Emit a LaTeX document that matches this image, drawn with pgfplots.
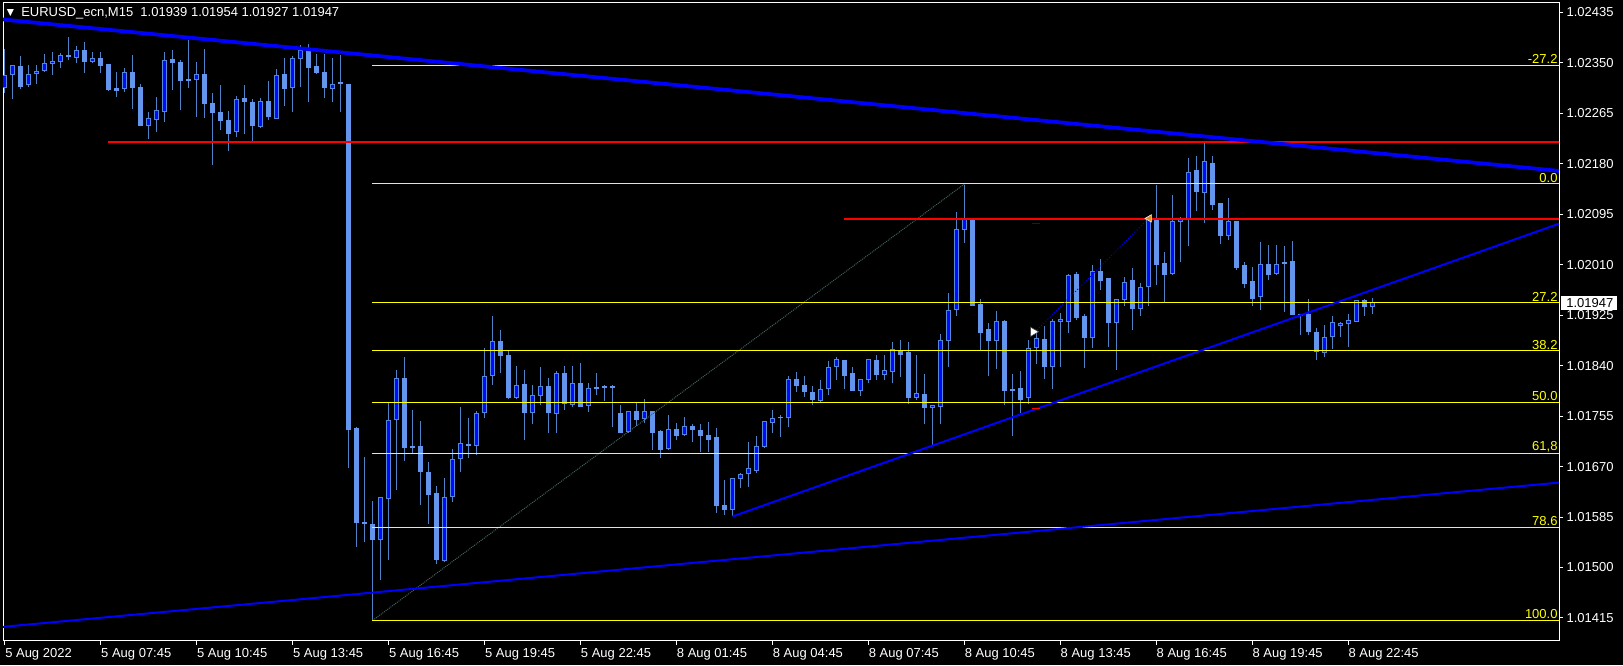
\documentclass[border=0pt]{standalone}
\usepackage{fontspec}
\setmainfont{Liberation Sans}
\newfontfamily\dejavu{DejaVu Sans}
\usepackage{pgfplots}
\pgfplotsset{compat=1.18}
\usepackage{pgfplotstable}

\definecolor{wick}{RGB}{80,130,200}
\definecolor{bearbody}{RGB}{100,149,237}
\definecolor{bulledge}{RGB}{85,135,215}
\definecolor{bullbody}{RGB}{0,10,255}
\definecolor{fibdiag}{RGB}{65,100,95}
\definecolor{tlblue}{RGB}{0,0,255}
\definecolor{fibyel}{RGB}{255,255,0}
\definecolor{arrorange}{RGB}{230,140,40}

% EURUSD M15, bar index 0 = 5 Aug 04:45
\pgfplotstableread{
i o h l c
0 1.02307 1.02373 1.02300 1.02328
1 1.02329 1.02347 1.02289 1.02345
3 1.02312 1.02347 1.02309 1.02331
4 1.02331 1.02346 1.02314 1.02336
5 1.02337 1.02365 1.02335 1.02348
6 1.02348 1.02368 1.02330 1.02352
7 1.02351 1.02366 1.02341 1.02363
9 1.02359 1.02379 1.02349 1.02371
11 1.02351 1.02369 1.02349 1.02358
15 1.02306 1.02341 1.02301 1.02333
18 1.02243 1.02267 1.02221 1.02256
19 1.02253 1.02292 1.02233 1.02269
20 1.02268 1.02368 1.02251 1.02353
24 1.02321 1.02352 1.02258 1.02331
29 1.02233 1.02294 1.02225 1.02288
32 1.02242 1.02290 1.02241 1.02284
34 1.02256 1.02340 1.02256 1.02328
36 1.02307 1.02361 1.02268 1.02357
37 1.02356 1.02380 1.02309 1.02370
41 1.02306 1.02358 1.02284 1.02314
47 1.01546 1.01617 1.01479 1.01617
48 1.01615 1.01777 1.01513 1.01748
49 1.01748 1.01832 1.01631 1.01818
55 1.01511 1.01651 1.01509 1.01617
56 1.01619 1.01700 1.01611 1.01682
57 1.01682 1.01770 1.01661 1.01708
59 1.01705 1.01763 1.01690 1.01760
60 1.01760 1.01870 1.01751 1.01822
61 1.01822 1.01924 1.01807 1.01880
64 1.01786 1.01839 1.01783 1.01807
66 1.01761 1.01808 1.01741 1.01789
67 1.01789 1.01837 1.01774 1.01805
69 1.01758 1.01831 1.01727 1.01826
71 1.01773 1.01840 1.01770 1.01809
73 1.01772 1.01810 1.01762 1.01802
78 1.01729 1.01763 1.01727 1.01763
80 1.01750 1.01784 1.01743 1.01762
83 1.01700 1.01757 1.01698 1.01733
85 1.01723 1.01753 1.01721 1.01738
91 1.01596 1.01649 1.01586 1.01649
92 1.01649 1.01659 1.01634 1.01657
93 1.01657 1.01711 1.01636 1.01667
94 1.01663 1.01721 1.01659 1.01703
95 1.01703 1.01746 1.01701 1.01745
96 1.01744 1.01766 1.01727 1.01750
98 1.01751 1.01822 1.01736 1.01816
102 1.01781 1.01816 1.01778 1.01799
103 1.01800 1.01848 1.01790 1.01837
104 1.01837 1.01855 1.01816 1.01851
107 1.01798 1.01818 1.01789 1.01816
108 1.01815 1.01852 1.01811 1.01851
110 1.01825 1.01858 1.01815 1.01831
111 1.01830 1.01879 1.01810 1.01867
114 1.01786 1.01858 1.01782 1.01793
116 1.01768 1.01774 1.01705 1.01773
117 1.01771 1.01893 1.01742 1.01882
118 1.01882 1.01962 1.01838 1.01933
119 1.01933 1.02099 1.01924 1.02069
120 1.02069 1.02145 1.02047 1.02086
124 1.01882 1.01932 1.01835 1.01914
128 1.01785 1.01884 1.01776 1.01869
129 1.01869 1.01897 1.01843 1.01886
131 1.01837 1.01918 1.01800 1.01914
132 1.01914 1.01928 1.01838 1.01917
133 1.01914 1.01995 1.01895 1.01992
136 1.01886 1.02010 1.01869 1.01999
139 1.01912 1.01953 1.01833 1.01952
140 1.01950 1.01989 1.01941 1.01980
142 1.01936 1.01979 1.01924 1.01971
143 1.01972 1.02088 1.01941 1.02087
146 1.01994 1.02128 1.01993 1.02082
147 1.02082 1.02091 1.02015 1.02087
148 1.02087 1.02190 1.02042 1.02166
150 1.02131 1.02216 1.02080 1.02183
153 1.02058 1.02122 1.02052 1.02082
157 1.01955 1.02048 1.01934 1.02011
159 1.01995 1.02043 1.01993 1.02011
165 1.01861 1.01909 1.01854 1.01888
166 1.01888 1.01923 1.01868 1.01912
167 1.01906 1.01914 1.01888 1.01911
168 1.01910 1.01927 1.01872 1.01916
169 1.01914 1.01951 1.01913 1.01950
171 1.01939 1.01954 1.01927 1.01947
}\bull

\pgfplotstableread{
i o h l c
2 1.02343 1.02362 1.02306 1.02310
8 1.02362 1.02394 1.02355 1.02360
10 1.02370 1.02385 1.02333 1.02352
12 1.02357 1.02369 1.02333 1.02345
13 1.02347 1.02348 1.02302 1.02304
14 1.02306 1.02334 1.02292 1.02303
16 1.02333 1.02363 1.02272 1.02308
17 1.02308 1.02315 1.02243 1.02244
21 1.02355 1.02371 1.02304 1.02349
22 1.02350 1.02355 1.02271 1.02320
23 1.02322 1.02389 1.02307 1.02320
25 1.02331 1.02373 1.02257 1.02280
26 1.02281 1.02300 1.02178 1.02266
27 1.02267 1.02313 1.02237 1.02252
28 1.02252 1.02269 1.02201 1.02231
30 1.02289 1.02313 1.02231 1.02284
31 1.02283 1.02289 1.02219 1.02243
33 1.02284 1.02320 1.02254 1.02258
35 1.02330 1.02358 1.02277 1.02306
38 1.02369 1.02382 1.02284 1.02342
39 1.02343 1.02365 1.02331 1.02333
40 1.02334 1.02365 1.02290 1.02307
42 1.02316 1.02363 1.02267 1.02314
43 1.02314 1.02315 1.01668 1.01731
44 1.01734 1.01736 1.01535 1.01575
45 1.01576 1.01686 1.01543 1.01573
46 1.01572 1.01612 1.01411 1.01546
50 1.01818 1.01854 1.01680 1.01701
51 1.01703 1.01765 1.01692 1.01701
52 1.01703 1.01746 1.01605 1.01660
53 1.01660 1.01677 1.01573 1.01622
54 1.01624 1.01638 1.01506 1.01513
58 1.01707 1.01751 1.01685 1.01705
62 1.01880 1.01900 1.01827 1.01857
63 1.01857 1.01864 1.01783 1.01786
65 1.01808 1.01832 1.01714 1.01761
68 1.01805 1.01819 1.01727 1.01761
70 1.01826 1.01840 1.01766 1.01775
72 1.01809 1.01844 1.01770 1.01771
74 1.01803 1.01827 1.01791 1.01800
75 1.01805 1.01808 1.01780 1.01803
76 1.01805 1.01808 1.01736 1.01803
77 1.01759 1.01774 1.01726 1.01727
79 1.01763 1.01778 1.01739 1.01749
81 1.01763 1.01764 1.01698 1.01727
82 1.01729 1.01732 1.01685 1.01698
84 1.01733 1.01743 1.01715 1.01722
86 1.01738 1.01742 1.01712 1.01731
87 1.01731 1.01742 1.01695 1.01721
88 1.01722 1.01745 1.01695 1.01714
89 1.01718 1.01735 1.01592 1.01603
90 1.01604 1.01648 1.01589 1.01596
97 1.01753 1.01757 1.01719 1.01751
99 1.01816 1.01829 1.01795 1.01805
100 1.01806 1.01822 1.01788 1.01795
101 1.01795 1.01805 1.01774 1.01782
105 1.01849 1.01850 1.01800 1.01823
106 1.01826 1.01837 1.01797 1.01798
109 1.01849 1.01858 1.01816 1.01824
112 1.01863 1.01883 1.01821 1.01858
113 1.01862 1.01880 1.01776 1.01786
115 1.01792 1.01826 1.01742 1.01769
121 1.02086 1.02087 1.01940 1.01941
122 1.01942 1.01953 1.01865 1.01895
123 1.01900 1.01912 1.01822 1.01882
125 1.01914 1.01917 1.01774 1.01798
126 1.01800 1.01826 1.01722 1.01797
127 1.01802 1.01831 1.01760 1.01782
130 1.01884 1.01907 1.01818 1.01838
134 1.01994 1.01997 1.01917 1.01921
135 1.01923 1.01927 1.01836 1.01887
137 1.01999 1.02019 1.01967 1.01982
138 1.01986 1.01987 1.01872 1.01912
141 1.01984 1.02004 1.01900 1.01936
144 1.02087 1.02145 1.01976 1.02010
145 1.02012 1.02032 1.01948 1.01993
149 1.02168 1.02193 1.02100 1.02132
151 1.02180 1.02193 1.02102 1.02111
152 1.02113 1.02114 1.02045 1.02059
154 1.02083 1.02084 1.02001 1.02005
155 1.02008 1.02014 1.01971 1.01978
156 1.01981 1.02006 1.01941 1.01953
158 1.02011 1.02043 1.01985 1.01993
160 1.02014 1.02042 1.01930 1.02011
161 1.02016 1.02050 1.01925 1.01926
162 1.01926 1.01927 1.01892 1.01924
163 1.01926 1.01953 1.01891 1.01896
164 1.01896 1.01903 1.01849 1.01863
170 1.01949 1.01952 1.01924 1.01939
}\bear

\begin{document}
\begin{tikzpicture}
\fill[black] (0,0) rectangle (1217.25pt,498.75pt);
\begin{axis}[
  at={(2.25pt,18.375pt)}, anchor=south west,
  scale only axis, width=1167pt, height=478.65pt,
  xmin=-0.25, xmax=194.35, ymin=1.01377, ymax=1.02452,
  axis line style={white, line width=0.75pt},
  tick style={white, line width=0.75pt},
  tick align=outside, major tick length=3pt,
  xtick pos=lower, ytick pos=upper, yticklabel pos=upper,
  xtick={0,12,24,36,48,60,72,84,96,108,120,132,144,156,168},
  xticklabels={5 Aug 2022,5 Aug 07:45,5 Aug 10:45,5 Aug 13:45,5 Aug 16:45,5 Aug 19:45,5 Aug 22:45,8 Aug 01:45,8 Aug 04:45,8 Aug 07:45,8 Aug 10:45,8 Aug 13:45,8 Aug 16:45,8 Aug 19:45,8 Aug 22:45},
  ytick={1.01415,1.01500,1.01585,1.01670,1.01755,1.01840,1.01925,1.02010,1.02095,1.02180,1.02265,1.02350,1.02435},
  yticklabels={1.01415,1.01500,1.01585,1.01670,1.01755,1.01840,1.01925,1.02010,1.02095,1.02180,1.02265,1.02350,1.02435},
  every tick label/.append style={font=\fontsize{9.75pt}{11pt}\selectfont, text=white, inner sep=0pt},
  xticklabel style={anchor=north west},
  yticklabel style={anchor=west},
  xticklabel shift=2.8pt,
  yticklabel shift=2.5pt,
]
% wicks
\addplot[draw=none, mark=none, forget plot, error bars/.cd, y dir=plus, y explicit, error mark=none,
  error bar style={draw=wick, line width=0.75pt}]
  table[x=i, y=l, y error expr=\thisrow{h}-\thisrow{l}] {\bull};
\addplot[draw=none, mark=none, forget plot, error bars/.cd, y dir=plus, y explicit, error mark=none,
  error bar style={draw=wick, line width=0.75pt}]
  table[x=i, y=l, y error expr=\thisrow{h}-\thisrow{l}] {\bear};
% bodies
\addplot[draw=none, mark=none, forget plot, error bars/.cd, y dir=plus, y explicit, error mark=none,
  error bar style={draw=bearbody, line width=3.75pt}]
  table[x=i, y=c, y error expr=\thisrow{o}-\thisrow{c}+0.00001] {\bear};
\addplot[draw=none, mark=none, forget plot, error bars/.cd, y dir=plus, y explicit, error mark=none,
  error bar style={draw=bulledge, line width=3.75pt}]
  table[x=i, y=o, y error expr=\thisrow{c}-\thisrow{o}+0.00001] {\bull};
\addplot[draw=none, mark=none, forget plot, error bars/.cd, y dir=plus, y explicit, error mark=none,
  error bar style={draw=bullbody, line width=2.25pt}]
  table[x=i, y expr=\thisrow{o}+0.0000168, y error expr=\thisrow{c}-\thisrow{o}-0.0000236] {\bull};

% fibonacci
\addplot[fibdiag, line width=0.75pt, dash pattern=on 0.75pt off 0.75pt] coordinates {(46,1.01411) (120,1.02146)};
\addplot[fibyel, line width=0.75pt] coordinates {(45.9,1.02346) (194.5,1.02346)};
\addplot[fibyel, line width=0.75pt] coordinates {(45.9,1.02146) (194.5,1.02146)};
\addplot[fibyel, line width=0.75pt] coordinates {(45.9,1.01946) (194.5,1.01946)};
\addplot[fibyel, line width=0.75pt] coordinates {(45.9,1.01865) (194.5,1.01865)};
\addplot[fibyel, line width=0.75pt] coordinates {(45.9,1.01778) (194.5,1.01778)};
\addplot[fibyel, line width=0.75pt] coordinates {(45.9,1.01692) (194.5,1.01692)};
\addplot[fibyel, line width=0.75pt] coordinates {(45.9,1.01568) (194.5,1.01568)};
\addplot[fibyel, line width=0.75pt] coordinates {(45.9,1.01411) (194.5,1.01411)};

% horizontal levels
\addplot[red, line width=1.5pt] coordinates {(12.9,1.02217) (194.5,1.02217)};
\addplot[red, line width=1.5pt] coordinates {(104.96,1.02087) (194.5,1.02087)};

% trend lines
\addplot[tlblue, line width=2.8pt] coordinates {(-0.25,1.02423) (194.35,1.02168)};
\addplot[tlblue, line width=1.5pt] coordinates {(-0.25,1.01400) (194.35,1.01643)};
\addplot[tlblue, line width=1.5pt] coordinates {(91,1.01586) (194.35,1.02079)};
\addplot[tlblue, line width=0.75pt, dash pattern=on 0.75pt off 1.5pt] coordinates {(129.07,1.01900) (142.95,1.02087)};
\addplot[tlblue, line width=0.75pt] coordinates {(128.5,1.02080) (129.4,1.02080)};
\addplot[red, line width=0.75pt] coordinates {(128.5,1.01767) (129.4,1.01767)};

% arrows
\addplot[only marks, mark=triangle*, mark size=4pt, mark options={rotate=-90, fill=white, draw=darkgray, line width=0.4pt}] coordinates {(128.6,1.01897)};
\addplot[only marks, mark=triangle*, mark size=3.2pt, mark options={rotate=90, fill=arrorange, draw=white, line width=0.4pt}] coordinates {(143.1,1.02088)};

% fib labels
\begin{scope}[every node/.style={anchor=south east, inner sep=0pt, text=fibyel, font=\fontsize{9.75pt}{11pt}\selectfont, yshift=1pt}]
\node at (axis cs:194.2,1.02346) {-27.2};
\node at (axis cs:194.2,1.02146) {0.0};
\node at (axis cs:194.2,1.01946) {27.2};
\node at (axis cs:194.2,1.01865) {38.2};
\node at (axis cs:194.2,1.01778) {50.0};
\node at (axis cs:194.2,1.01692) {61,8};
\node at (axis cs:194.2,1.01568) {78.6};
\node at (axis cs:194.2,1.01411) {100.0};
\end{scope}
\end{axis}

% title
\node[anchor=base west, inner sep=0pt, text=white, font=\dejavu\fontsize{7pt}{8pt}\selectfont] at (5pt,487pt) {▼};
\node[anchor=base west, inner sep=0pt, text=white, font=\fontsize{9.75pt}{11pt}\selectfont] at (15.75pt,486.2pt) {EURUSD\_ecn,M15\ \ 1.01939 1.01954 1.01927 1.01947};

% current price box
\fill[white] (1170.75pt,266.2pt) rectangle (1212.75pt,277pt);
\node[anchor=west, inner sep=0pt, text=black, font=\fontsize{9.75pt}{11pt}\selectfont] at (1174.5pt,271.6pt) {1.01947};

\pgfresetboundingbox
\path (0,0) rectangle (1217.25pt,498.75pt);
\end{tikzpicture}
\end{document}
